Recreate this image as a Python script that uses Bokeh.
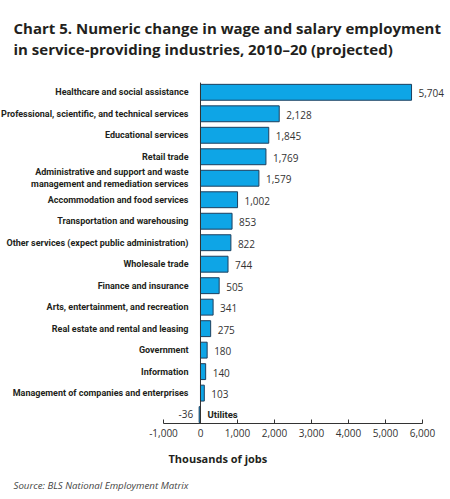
from bokeh.plotting import figure
from bokeh.models import Range1d, FixedTicker, ColumnDataSource, NumeralTickFormatter, LinearAxis, Title
from bokeh.core.properties import value
from bokeh.embed import file_html
from bokeh.resources import INLINE

industries = [
    "Healthcare and social assistance",
    "Professional, scientific, and technical services",
    "Educational services",
    "Retail trade",
    "Administrative and support and waste\nmanagement and remediation services",
    "Accommodation and food services",
    "Transportation and warehousing",
    "Other services (expect public administration)",
    "Wholesale trade",
    "Finance and insurance",
    "Arts, entertainment, and recreation",
    "Real estate and rental and leasing",
    "Government",
    "Information",
    "Management of companies and enterprises",
    "Utilites",
]
change = [5704, 2128, 1845, 1769, 1579, 1002, 853, 822, 744, 505, 341, 275, 180, 140, 103, -36]
value_labels = ["5,704", "2,128", "1,845", "1,769", "1,579", "1,002", "853", "822", "744",
                "505", "341", "275", "180", "140", "103", "-36"]
x_ticks = [-1000, 0, 1000, 2000, 3000, 4000, 5000, 6000]

pos = list(range(len(industries)))
ipos = [i for i, v in enumerate(change) if v >= 0]
ineg = [i for i, v in enumerate(change) if v < 0]

def sub(idx):
    return ColumnDataSource(dict(y=[pos[i] for i in idx], v=[change[i] for i in idx],
                                 name=[industries[i] for i in idx], vl=[value_labels[i] for i in idx]))

src = ColumnDataSource(dict(y=pos, v=change))
pos_src = sub(ipos)
neg_src = sub(ineg)

W, H = 450, 499
TOP = 70
step = 21.73
p = figure(width=W, height=H, output_backend="svg", toolbar_location=None,
           x_range=Range1d(-5405, 6757),
           y_range=Range1d(15 + 9 / step, -18 / step),
           min_border_left=0, min_border_right=0, min_border_top=TOP, min_border_bottom=76,
           x_axis_location=None, y_axis_location=None)
p.outline_line_color = None
p.grid.visible = False

p.title.text = ("Chart 5. Numeric change in wage and salary employment\n"
                "in service-providing industries, 2010\u201320 (projected)")
p.title.text_font = "Open Sans"
p.title.text_font_style = "bold"
p.title.text_font_size = "15px"
p.title.text_color = "#231f20"
p.title.text_line_height = 1.05
p.title.align = "left"
p.title.offset = 13
p.title.standoff = 31

ax = LinearAxis(bounds=(-1000, 6000), ticker=FixedTicker(ticks=x_ticks),
                formatter=NumeralTickFormatter(format="0,0"))
ax.axis_line_color = "#333333"
ax.major_tick_in = 4
ax.major_tick_out = 0
ax.major_tick_line_color = "#333333"
ax.minor_tick_line_color = None
ax.major_label_text_font = "Open Sans"
ax.major_label_text_font_size = "10px"
ax.major_label_text_color = "#333333"
ax.major_label_standoff = 5
p.add_layout(ax, "below")

p.add_layout(Title(text="Thousands of jobs", align="left", offset=168, standoff=19,
                   text_font="Open Sans", text_font_style="bold", text_font_size="11px",
                   text_color="#231f20"), "below")
p.add_layout(Title(text="Source: BLS National Employment Matrix", align="left", offset=13,
                   standoff=2, text_font="Open Sans", text_font_style="italic",
                   text_font_size="9.7px", text_color="#444444"), "below")

p.hbar(y="y", left=0, right="v", height=0.74, source=src,
       fill_color="#0ea5e6", line_color="#1d3f5e", line_width=1)

p.segment(x0=[0], x1=[0], y0=[-0.45], y1=[15 + 9 / step], line_color="#333333", line_width=1)

# category labels
p.text(x=0, y="y", text="name", source=pos_src, x_offset=-12, text_align="right",
       text_baseline="middle", text_font=value("Roboto"), text_font_style="bold",
       text_font_size="9px", text_color="#231f20", text_line_height=1.2)
p.text(x=0, y="y", text="name", source=neg_src, x_offset=7, text_align="left",
       text_baseline="middle", text_font=value("Roboto"), text_font_style="bold",
       text_font_size="9.5px", text_color="#231f20")

# value labels
p.text(x="v", y="y", text="vl", source=pos_src, x_offset=7, y_offset=1, text_align="left",
       text_baseline="middle", text_font=value("Open Sans"), text_font_size="10px",
       text_color="#333333")
p.text(x="v", y="y", text="vl", source=neg_src, x_offset=-6, y_offset=-1, text_align="right",
       text_baseline="middle", text_font=value("Open Sans"), text_font_size="10px",
       text_color="#333333")

open("out.html", "w").write(file_html(p, INLINE))
